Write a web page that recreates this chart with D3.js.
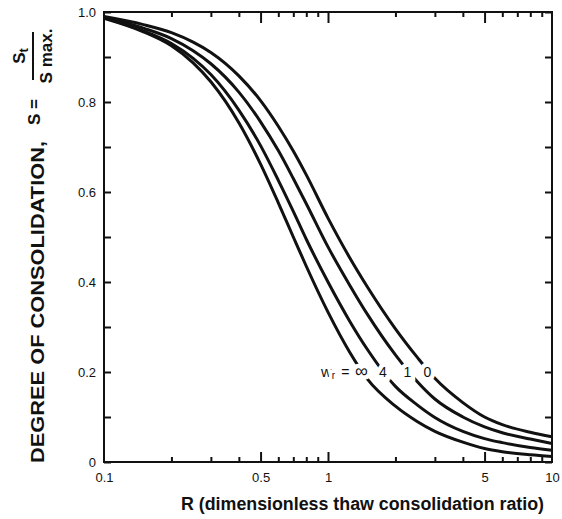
<!DOCTYPE html>
<html>
<head>
<meta charset="utf-8">
<script src="https://cdn.jsdelivr.net/npm/d3@7"></script>
<style>
  html, body { margin: 0; padding: 0; background: #fff; }
  svg { display: block; }
</style>
</head>
<body>
<svg id="chart" width="562" height="519"></svg>
<script>
// ---- data ----
const ratioR = [0.1, 0.15, 0.2, 0.25, 0.3, 0.4, 0.5, 0.6, 0.7, 0.8, 1.0, 1.25, 1.5, 2, 2.5, 3, 4, 5, 6, 8, 10];
const sInf  = [0.986, 0.956, 0.925, 0.887, 0.845, 0.754, 0.662, 0.576, 0.500, 0.435, 0.333, 0.244, 0.184, 0.124, 0.090, 0.068, 0.044, 0.030, 0.023, 0.016, 0.012];
const sW4   = [0.987, 0.958, 0.930, 0.897, 0.861, 0.782, 0.703, 0.626, 0.557, 0.495, 0.400, 0.313, 0.250, 0.168, 0.127, 0.099, 0.068, 0.052, 0.043, 0.032, 0.026];
const sW1   = [0.989, 0.964, 0.941, 0.914, 0.885, 0.822, 0.756, 0.692, 0.630, 0.574, 0.478, 0.393, 0.328, 0.238, 0.179, 0.140, 0.100, 0.078, 0.065, 0.051, 0.041];
const sW0   = [0.990, 0.972, 0.954, 0.933, 0.910, 0.858, 0.803, 0.746, 0.691, 0.638, 0.542, 0.454, 0.389, 0.296, 0.233, 0.186, 0.132, 0.100, 0.083, 0.066, 0.056];
const seriesNames = ["∞", "4", "1", "0"];
const xMinorTicks = [0.2, 0.3, 0.4, 0.6, 0.7, 0.8, 0.9, 2, 3, 4, 6, 7, 8, 9];
const xMajorTicks = [0.5, 1, 5];
const xTickLabels = [0.1, 0.5, 1, 5, 10];
const yTicks = [0, 0.1, 0.2, 0.3, 0.4, 0.5, 0.6, 0.7, 0.8, 0.9, 1.0];
const yTickLabels = [0, 0.2, 0.4, 0.6, 0.8, 1.0];

// ---- layout ----
const svg = d3.select("#chart");
const L = 104, R = 552, T = 12, B = 462;
const x = d3.scaleLog().domain([0.1, 10]).range([L, R]);
const y = d3.scaleLinear().domain([0, 1]).range([B, T]);
const FONT = "'Liberation Sans', Arial, sans-serif";

const series = [sInf, sW4, sW1, sW0];

// curves
const line = d3.line()
  .x(d => x(d[0]))
  .y(d => y(d[1]))
  .curve(d3.curveMonotoneX);

svg.append("g").selectAll("path")
  .data(series)
  .join("path")
  .attr("d", s => line(ratioR.map((r, i) => [r, s[i]])))
  .attr("fill", "none")
  .attr("stroke", "#111")
  .attr("stroke-width", 3);

// axes helper
function styleAxis(g) {
  g.select(".domain").remove();
  g.selectAll(".tick line").attr("stroke", "#111").attr("stroke-width", 2);
  g.selectAll("text").attr("fill", "#111").style("font-family", FONT).style("font-size", "13px");
}

// bottom
svg.append("g").attr("transform", `translate(0,${B})`)
  .call(d3.axisBottom(x).tickValues(xMinorTicks).tickSize(-5).tickFormat(""))
  .call(styleAxis);
svg.append("g").attr("transform", `translate(0,${B})`)
  .call(d3.axisBottom(x).tickValues(xMajorTicks).tickSize(-10).tickFormat(""))
  .call(styleAxis);
svg.append("g").attr("transform", `translate(0,${B})`)
  .call(d3.axisBottom(x).tickValues(xTickLabels).tickSize(0).tickPadding(11)
        .tickFormat(d => d3.format("~g")(d)))
  .call(styleAxis);

// top
svg.append("g").attr("transform", `translate(0,${T})`)
  .call(d3.axisTop(x).tickValues(xMinorTicks).tickSize(-5).tickFormat(""))
  .call(styleAxis);
svg.append("g").attr("transform", `translate(0,${T})`)
  .call(d3.axisTop(x).tickValues(xMajorTicks).tickSize(-11).tickFormat(""))
  .call(styleAxis);

// left
svg.append("g").attr("transform", `translate(${L},0)`)
  .call(d3.axisLeft(y).tickValues(yTicks).tickSize(-7).tickFormat(""))
  .call(styleAxis);
svg.append("g").attr("transform", `translate(${L},0)`)
  .call(d3.axisLeft(y).tickValues(yTickLabels).tickSize(0).tickPadding(8)
        .tickFormat(d => d === 0 ? "0" : d3.format(".1f")(d)))
  .call(styleAxis);

// right
svg.append("g").attr("transform", `translate(${R},0)`)
  .call(d3.axisRight(y).tickValues(yTicks).tickSize(-7).tickFormat(""))
  .call(styleAxis);

// frame
svg.append("rect")
  .attr("x", L).attr("y", T).attr("width", R - L).attr("height", B - T)
  .attr("fill", "none").attr("stroke", "#111").attr("stroke-width", 2);

// curve labels with white halo (gaps in the curves)
const labelY = 377;
const labelG = svg.append("g")
  .style("font-family", FONT).style("font-size", "14px").attr("fill", "#111");
const wr = labelG.append("text").attr("x", 321).attr("y", labelY)
  .attr("stroke", "#fff").attr("stroke-width", 7).attr("paint-order", "stroke");
wr.append("tspan").style("font-size", "15px").text("w");
wr.append("tspan").attr("dy", 2).style("font-size", "10px").text("r");
wr.append("tspan").attr("dy", -2).attr("dx", 6).text("=");
const labelX = [361.5, 383, 407.5, 427.5];
labelG.selectAll("text.cl")
  .data(seriesNames)
  .join("text")
  .attr("class", "cl")
  .attr("x", (d, i) => labelX[i])
  .attr("y", labelY)
  .attr("text-anchor", "middle")
  .style("font-size", (d, i) => i === 0 ? "18px" : "14px")
  .attr("stroke", "#fff").attr("stroke-width", 9).attr("paint-order", "stroke")
  .text(d => d);

// x axis title
svg.append("text")
  .attr("x", 181).attr("y", 510)
  .attr("textLength", 363).attr("lengthAdjust", "spacingAndGlyphs")
  .style("font-family", FONT).style("font-size", "18px").style("font-weight", "bold").attr("fill", "#111")
  .text("R (dimensionless thaw consolidation ratio)");

// y axis title (rotated)
svg.append("text")
  .attr("transform", "translate(44,463) rotate(-90)")
  .attr("textLength", 322).attr("lengthAdjust", "spacingAndGlyphs")
  .style("font-family", FONT).style("font-size", "19px").style("font-weight", "bold").attr("fill", "#111")
  .text("DEGREE OF CONSOLIDATION,");
svg.append("text")
  .attr("transform", "translate(40,125) rotate(-90)")
  .style("font-family", FONT).style("font-size", "17px").style("font-weight", "bold").attr("fill", "#111")
  .text("S =");
// fraction
svg.append("line").attr("x1", 33).attr("x2", 33).attr("y1", 80).attr("y2", 32)
  .attr("stroke", "#111").attr("stroke-width", 2);
const num = svg.append("text")
  .attr("transform", "translate(25,56) rotate(-90)")
  .attr("text-anchor", "middle")
  .style("font-family", FONT).style("font-size", "17px").style("font-weight", "bold").attr("fill", "#111");
num.append("tspan").text("S");
num.append("tspan").attr("dy", 3).style("font-size", "13px").text("t");
svg.append("text")
  .attr("transform", "translate(52,56) rotate(-90)")
  .attr("text-anchor", "middle")
  .style("font-family", FONT).style("font-size", "17px").style("font-weight", "bold").attr("fill", "#111")
  .text("S max.");
</script>
</body>
</html>
